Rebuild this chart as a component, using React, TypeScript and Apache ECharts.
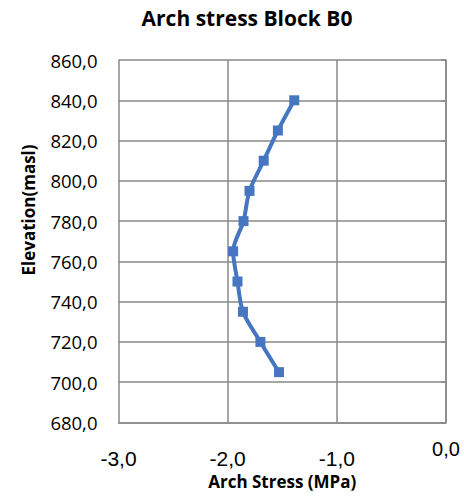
import React, { useEffect, useRef } from "react";
import * as echarts from "echarts";

const elevations = [840, 825, 810, 795, 780, 765, 750, 735, 720, 705];
const stresses = [-1.39, -1.54, -1.67, -1.8, -1.855, -1.95, -1.91, -1.86, -1.7, -1.53];
const xTicks = { min: -3, max: 0, interval: 1 };
const yTicks = { min: 680, max: 860, interval: 20 };
const titleText = "Arch stress Block B0";
const xName = "Arch Stress (MPa)";
const yName = "Elevation(masl)";

const fmt = (v: number) => v.toFixed(1).replace(".", ",");

export default function App() {
  const ref = useRef<HTMLDivElement>(null);
  useEffect(() => {
    if (!ref.current) return;
    const chart = echarts.init(ref.current, null, { renderer: "svg" });
    const gridColor = "#898989";
    chart.setOption({
      animation: false,
      backgroundColor: "#ffffff",
      title: {
        text: titleText,
        left: 242,
        top: 2,
        textAlign: "center",
        textStyle: { fontFamily: "Open Sans", fontWeight: "bold", fontSize: 21, color: "#000" },
      },
      grid: { left: 118.5, right: 18, top: 60, bottom: 75.5 },
      xAxis: {
        type: "value",
        min: xTicks.min,
        max: xTicks.max,
        interval: xTicks.interval,
        name: xName,
        nameLocation: "middle",
        nameGap: 50,
        nameTextStyle: { fontFamily: "Open Sans", fontWeight: "bold", fontSize: 17, color: "#000" },
        axisLine: { show: true, lineStyle: { color: gridColor, width: 1.5 } },
        axisTick: { show: false },
        splitLine: { show: true, lineStyle: { color: gridColor, width: 1.5 } },
        axisLabel: {
          margin: 16,
          fontFamily: "Liberation Sans",
          fontSize: 21,
          color: "#000",
          formatter: (v: number) => (v === 0 ? "{up|" + fmt(v) + "}" : "{dn|" + fmt(v) + "}"),
          rich: {
            up: { fontFamily: "Liberation Sans", fontSize: 20, color: "#000" },
            dn: { fontFamily: "Liberation Sans", fontSize: 21, color: "#000", padding: [9, 0, 0, 0] },
          },
        },
      },
      yAxis: {
        type: "value",
        min: yTicks.min,
        max: yTicks.max,
        interval: yTicks.interval,
        axisLine: { show: true, lineStyle: { color: gridColor, width: 1.5 } },
        axisTick: { show: true, length: 5, lineStyle: { color: gridColor, width: 1.5 } },
        splitLine: { show: true, lineStyle: { color: gridColor, width: 1.5 } },
        axisLabel: {
          margin: 21,
          fontFamily: "Open Sans",
          fontSize: 18.5,
          color: "#000",
          formatter: (v: number) => fmt(v),
        },
      },
      graphic: [
        {
          type: "text",
          x: 28,
          y: 210,
          rotation: Math.PI / 2,
          style: {
            text: yName,
            fontFamily: "Open Sans",
            fontWeight: "bold",
            fontSize: 17,
            fill: "#000",
            align: "center",
            verticalAlign: "middle",
          },
        },
      ],
      series: [
        {
          type: "line",
          data: stresses.map((s, i) => [s, elevations[i]]),
          smooth: 0.3,
          symbol: "rect",
          symbolSize: 10,
          lineStyle: { color: "#4676c0", width: 4 },
          itemStyle: { color: "#4676c0" },
        },
      ],
    });
    return () => chart.dispose();
  }, []);
  return (
    <div
      ref={ref}
      style={{ position: "fixed", left: 0, top: 0, width: 464, height: 498 }}
    />
  );
}
